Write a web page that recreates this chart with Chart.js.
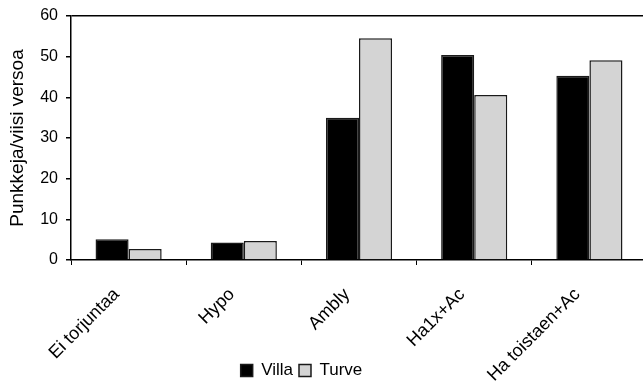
<!DOCTYPE html>
<html><head><meta charset="utf-8">
<script src="https://cdn.jsdelivr.net/npm/chart.js@4"></script>
<style>html,body{margin:0;padding:0;background:#fff;overflow:hidden}#wrap{width:647px;height:383px}</style>
</head><body><div id="wrap"><canvas id="c" width="647" height="383"></canvas></div>
<script>
const categories = ["Ei torjuntaa", "Hypo", "Ambly", "Ha1x+Ac", "Ha toistaen+Ac"];
const villa = [5.1, 4.3, 35.0, 50.4, 45.3];
const turve = [2.7, 4.7, 54.5, 40.6, 49.1];
const yTicks = [0, 10, 20, 30, 40, 50, 60];
const FONT = "'Liberation Sans', Arial, sans-serif";

const adjustLayout = {
  id: 'adjustLayout',
  afterLayout(chart) {
    const lg = chart.legend;
    if (lg) {
      const dx = -22, dy = 6;
      lg.left += dx; lg.right += dx;
      lg.top += dy; lg.bottom += dy;
    }
    const x = chart.scales.x;
    x.bottom = chart.height;
    x.height = x.bottom - x.top;
  }
};

new Chart(document.getElementById('c'), {
  type: 'bar',
  data: {
    labels: categories,
    datasets: [
      { label: 'Villa', data: villa, backgroundColor: '#000000', borderColor: '#1a1a1a', borderWidth: 1.5, barPercentage: 1.0, categoryPercentage: 0.574 },
      { label: 'Turve', data: turve, backgroundColor: '#d4d4d4', borderColor: '#1a1a1a', borderWidth: 1.5, barPercentage: 1.0, categoryPercentage: 0.574 }
    ]
  },
  options: {
    responsive: false,
    animation: false,
    layout: { padding: { top: 15, left: 0, right: 0, bottom: 0 } },
    plugins: {
      legend: {
        position: 'bottom',
        labels: { font: { family: FONT, size: 17 }, color: '#000', boxWidth: 12, boxHeight: 12, padding: 6 }
      },
      tooltip: { enabled: false }
    },
    scales: {
      x: {
        offset: true,
        grid: { offset: true, drawOnChartArea: false, drawTicks: true, tickLength: 5, color: '#000', tickColor: '#000' },
        border: { display: true, color: '#000', width: 1.5 },
        ticks: { font: { family: FONT, size: 18 }, color: '#000', maxRotation: 45, minRotation: 45, padding: 19, labelOffset: -12, autoSkip: false },
        afterFit(s) { s.height = 90; }
      },
      y: {
        min: 0, max: 60,
        afterBuildTicks(s) { s.ticks = yTicks.map(v => ({ value: v })); },
        grid: {
          drawOnChartArea: true, drawTicks: true, tickLength: 5,
          color: ctx => (ctx.tick && ctx.tick.value === 60) ? '#000' : 'rgba(0,0,0,0)',
          lineWidth: 1.5,
          tickColor: '#000'
        },
        border: { display: true, color: '#000', width: 1.5 },
        ticks: { font: { family: FONT, size: 16, lineHeight: 1 }, color: '#000', padding: 8 },
        title: { display: true, text: 'Punkkeja/viisi versoa', font: { family: FONT, size: 19 }, color: '#000', padding: { top: 6, bottom: 0 } },
        afterFit(s) { s.width = 71; }
      }
    }
  },
  plugins: [adjustLayout]
});
</script></body></html>
